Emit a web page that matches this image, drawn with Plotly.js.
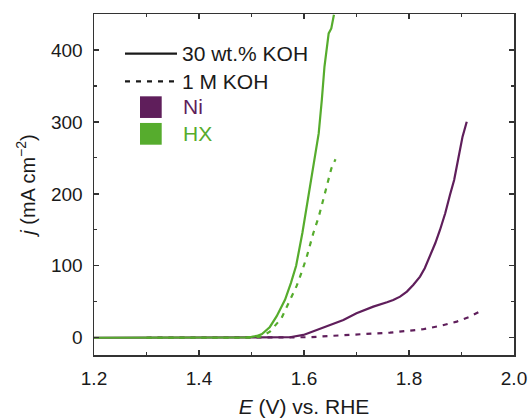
<!DOCTYPE html>
<html>
<head>
<meta charset="utf-8">
<script src="https://cdn.plot.ly/plotly-3.0.1.min.js"></script>
<style>html,body{margin:0;padding:0;background:#fff;}#chart{width:529px;height:418px;}</style>
</head>
<body>
<div id="chart"></div>
<script>
// ---- data ----
const hxSolidE = [1.20,1.30,1.40,1.46,1.49,1.50,1.51,1.52,1.535,1.548,1.564,1.575,1.585,1.597,1.607,1.618,1.628,1.634,1.639,1.647,1.652,1.657];
const hxSolidJ = [0,0,0,0.2,0.6,1.2,2.5,5,15,30,53,76,100,146,192,238,284,331,377,423,430,449];

const hxDashE = [1.30,1.40,1.50,1.52,1.535,1.557,1.572,1.586,1.596,1.605,1.618,1.628,1.636,1.644,1.652,1.660];
const hxDashJ = [0,0,0,2,8.5,27,50,72,92,112,146,168,190,213,235,248];

const niSolidE = [1.20,1.35,1.45,1.50,1.55,1.573,1.599,1.624,1.650,1.675,1.700,1.732,1.758,1.770,1.783,1.796,1.808,1.821,1.830,1.840,1.850,1.859,1.869,1.878,1.886,1.894,1.902,1.910];
const niSolidJ = [0,0,0,0,0.3,0.7,3.9,10.8,17.8,24.7,34,43.2,49.3,52.5,57.1,64.1,73.4,84.9,96.6,112.7,131.3,149.8,173,198.5,219.3,249.5,279.5,300.3];

const niDashE = [1.30,1.40,1.55,1.611,1.650,1.688,1.726,1.764,1.802,1.827,1.859,1.891,1.916,1.938];
const niDashJ = [0,0,0.2,0.7,2.5,3.9,5.3,7.1,9.9,11.8,16.4,22.4,29.3,37.7];

const xTicks = [1.2,1.4,1.6,1.8,2.0];
const xTickText = ['1.2','1.4','1.6','1.8','2.0'];
const yTicks = [0,100,200,300,400];

const legendLines = ['30 wt.% KOH','1 M KOH'];
const legendMaterials = ['Ni','HX'];

const NI = '#5f1e5b';
const HX = '#56ac2d';
const INK = '#1a1a1a';
const FONT = 'Liberation Sans, Arial, sans-serif';

const traces = [
  {x: niDashE, y: niDashJ, mode:'lines', line:{color:NI, width:2.2, dash:'5px,6px'}, hoverinfo:'skip'},
  {x: niSolidE, y: niSolidJ, mode:'lines', line:{color:NI, width:2.2}, hoverinfo:'skip'},
  {x: hxDashE, y: hxDashJ, mode:'lines', line:{color:HX, width:2.2, dash:'5px,6px'}, hoverinfo:'skip'},
  {x: hxSolidE, y: hxSolidJ, mode:'lines', line:{color:HX, width:2.2}, hoverinfo:'skip'}
];

const axisCommon = {
  showgrid:false, zeroline:false,
  showline:true, linecolor:'#333', linewidth:1.5, mirror:'allticks',
  ticks:'inside', ticklen:5, tickwidth:1.3, tickcolor:'#333',
  tickfont:{family:FONT, size:19, color:INK}
};

const layout = {
  width:529, height:418,
  margin:{l:94, r:15, t:14, b:63},
  paper_bgcolor:'#fff', plot_bgcolor:'#fff',
  showlegend:false,
  xaxis: Object.assign({}, axisCommon, {
    range:[1.2,2.0], tickvals:xTicks, ticktext:xTickText,
    minor:{ticks:'inside', ticklen:3, tickwidth:1.2, tickcolor:'#333', dtick:0.1, tick0:1.2},
    ticklabelstandoff:6,
    title:{text:'<i>E</i> (V) vs. RHE', font:{family:FONT, size:21, color:INK}, standoff:14}
  }),
  yaxis: Object.assign({}, axisCommon, {
    range:[-24,450], tickvals:yTicks,
    minor:{ticks:'inside', ticklen:3, tickwidth:1.2, tickcolor:'#333', dtick:50, tick0:0},
    ticklabelstandoff:6,
    title:{text:'<i>j</i> (mA cm<sup>−2</sup>)', font:{family:FONT, size:20, color:INK}, standoff:10}
  }),
  shapes:[
    {type:'line', xref:'paper', yref:'paper', x0:0.0738, x1:0.1976, y0:0.884, y1:0.884, line:{color:INK, width:2.2}},
    {type:'line', xref:'paper', yref:'paper', x0:0.0738, x1:0.1976, y0:0.8026, y1:0.8026, line:{color:INK, width:2.2, dash:'5px,6px'}},
    {type:'rect', xref:'paper', yref:'paper', x0:0.1095, x1:0.1612, y0:0.6951, y1:0.7586, fillcolor:NI, line:{width:0}},
    {type:'rect', xref:'paper', yref:'paper', x0:0.1095, x1:0.1612, y0:0.6167, y1:0.6805, fillcolor:HX, line:{width:0}}
  ],
  annotations:[
    {text:legendLines[0], xref:'paper', yref:'paper', x:0.2036, y:0.884, xanchor:'left', yanchor:'middle', showarrow:false, font:{family:FONT, size:21, color:INK}},
    {text:legendLines[1], xref:'paper', yref:'paper', x:0.2036, y:0.8026, xanchor:'left', yanchor:'middle', showarrow:false, font:{family:FONT, size:21, color:INK}},
    {text:legendMaterials[0], xref:'paper', yref:'paper', x:0.2070, y:0.728, xanchor:'left', yanchor:'middle', showarrow:false, font:{family:FONT, size:21, color:NI}},
    {text:legendMaterials[1], xref:'paper', yref:'paper', x:0.2070, y:0.649, xanchor:'left', yanchor:'middle', showarrow:false, font:{family:FONT, size:21, color:HX}}
  ]
};

Plotly.newPlot('chart', traces, layout, {staticPlot:true, displayModeBar:false});
</script>
</body>
</html>
